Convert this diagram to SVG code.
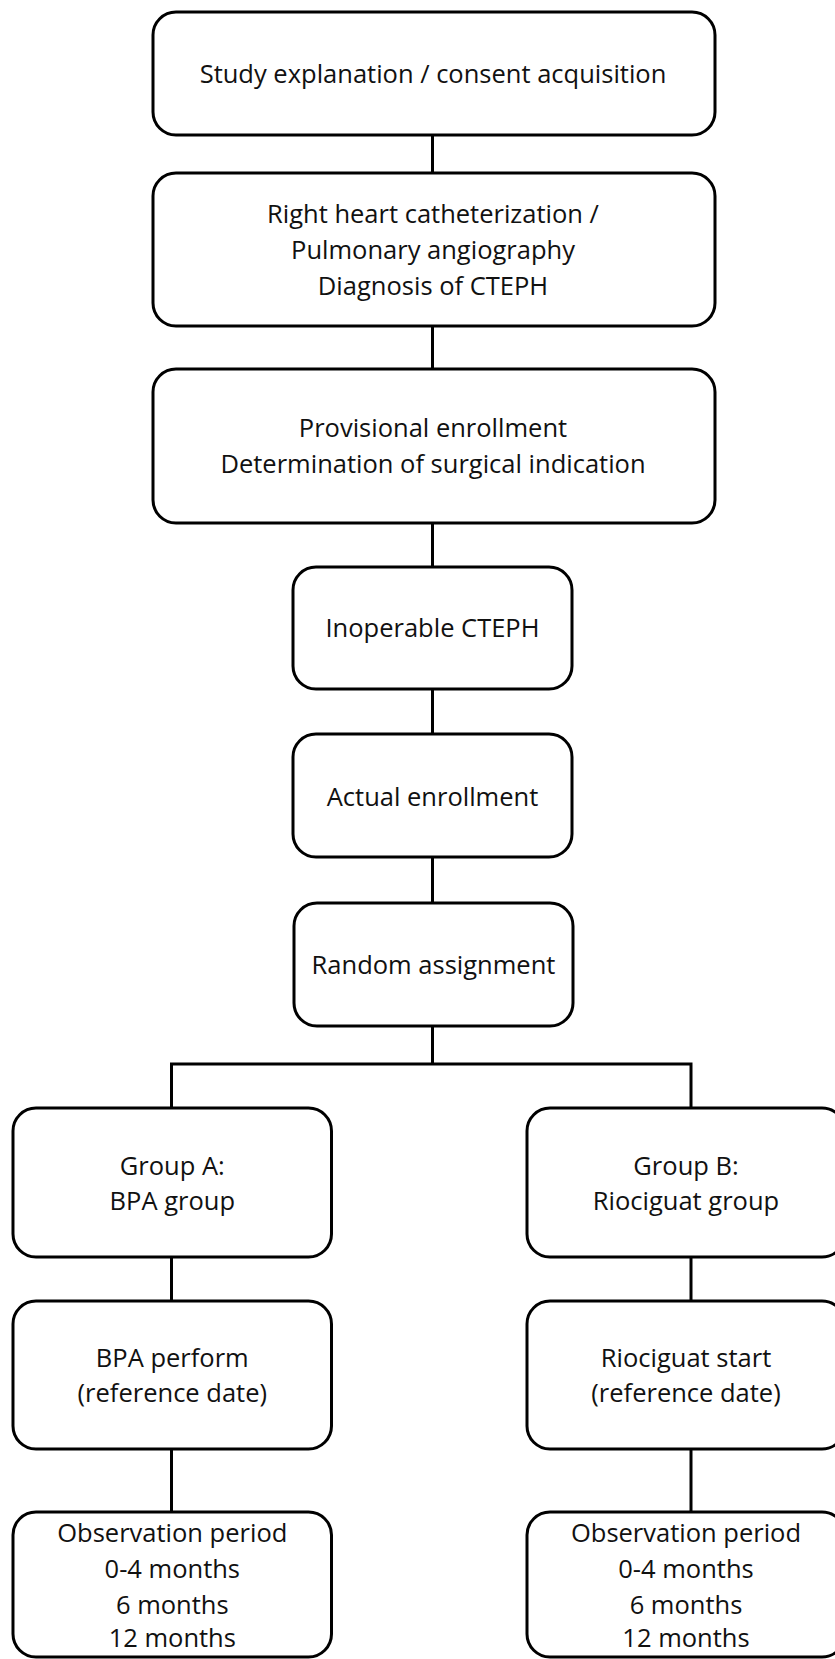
<svg xmlns="http://www.w3.org/2000/svg" width="835" height="1659" viewBox="0 0 835 1659">
<style>
.box{fill:#fff;stroke:#000;stroke-width:3}
.ln{fill:none;stroke:#000;stroke-width:3}
text{font-family:"Open Sans","Liberation Sans",sans-serif;font-size:25.5px;fill:#111;text-anchor:middle}
</style>
<rect width="835" height="1659" fill="#fff"/>
<g id="connectors">
<line class="ln" x1="432.5" y1="135" x2="432.5" y2="173"/>
<line class="ln" x1="432.5" y1="326" x2="432.5" y2="369"/>
<line class="ln" x1="432.5" y1="523" x2="432.5" y2="567"/>
<line class="ln" x1="432.5" y1="689" x2="432.5" y2="734"/>
<line class="ln" x1="432.5" y1="857" x2="432.5" y2="903"/>
<path class="ln" d="M432.5 1026 V1064 M171.5 1108 V1064 H691 V1108"/>
<line class="ln" x1="171.5" y1="1257" x2="171.5" y2="1301"/>
<line class="ln" x1="691" y1="1257" x2="691" y2="1301"/>
<line class="ln" x1="171.5" y1="1449" x2="171.5" y2="1512"/>
<line class="ln" x1="691" y1="1449" x2="691" y2="1512"/>
</g>
<g id="n1"><rect class="box" x="153" y="12" width="562" height="123" rx="23"/>
<text x="433" y="83">Study explanation / consent acquisition</text></g>
<g id="n2"><rect class="box" x="153" y="173" width="562" height="153" rx="23"/>
<text x="433" y="223">Right heart catheterization /</text>
<text x="433" y="259">Pulmonary angiography</text>
<text x="433" y="295">Diagnosis of CTEPH</text></g>
<g id="n3"><rect class="box" x="153" y="369" width="562" height="154" rx="23"/>
<text x="433" y="437">Provisional enrollment</text>
<text x="433" y="473">Determination of surgical indication</text></g>
<g id="n4"><rect class="box" x="293" y="567" width="279" height="122" rx="23"/>
<text x="432.5" y="637">Inoperable CTEPH</text></g>
<g id="n5"><rect class="box" x="293" y="734" width="279" height="123" rx="23"/>
<text x="432.5" y="806">Actual enrollment</text></g>
<g id="n6"><rect class="box" x="294" y="903" width="279" height="123" rx="23"/>
<text x="433.5" y="974">Random assignment</text></g>
<g id="n7"><rect class="box" x="13" y="1108" width="318.5" height="149" rx="23"/>
<text x="172.3" y="1175">Group A:</text>
<text x="172.3" y="1210">BPA group</text></g>
<g id="n8"><rect class="box" x="527" y="1108" width="318" height="149" rx="23"/>
<text x="686" y="1175">Group B:</text>
<text x="686" y="1210">Riociguat group</text></g>
<g id="n9"><rect class="box" x="13" y="1301" width="318.5" height="148" rx="23"/>
<text x="172.3" y="1367">BPA perform</text>
<text x="172.3" y="1402">(reference date)</text></g>
<g id="n10"><rect class="box" x="527" y="1301" width="318" height="148" rx="23"/>
<text x="686" y="1367">Riociguat start</text>
<text x="686" y="1402">(reference date)</text></g>
<g id="n11"><rect class="box" x="13" y="1512" width="318.5" height="145" rx="23"/>
<text x="172.3" y="1542">Observation period</text>
<text x="172.3" y="1578">0-4 months</text>
<text x="172.3" y="1614">6 months</text>
<text x="172.3" y="1647">12 months</text></g>
<g id="n12"><rect class="box" x="527" y="1512" width="318" height="145" rx="23"/>
<text x="686" y="1542">Observation period</text>
<text x="686" y="1578">0-4 months</text>
<text x="686" y="1614">6 months</text>
<text x="686" y="1647">12 months</text></g>
</svg>
